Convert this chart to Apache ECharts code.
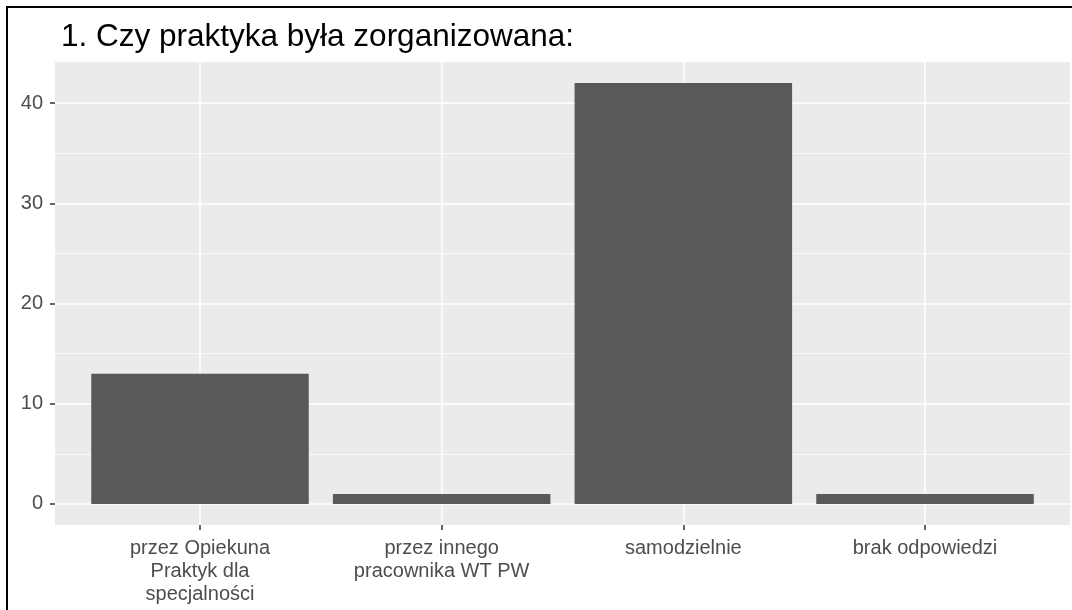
<!DOCTYPE html>
<html>
<head>
<meta charset="utf-8">
<script src="https://cdn.jsdelivr.net/npm/echarts@6/dist/echarts.min.js"></script>
<style>
  html, body { margin: 0; padding: 0; background: #fff; overflow: hidden; }
  #wrap { position: relative; width: 1072px; height: 610px; overflow: hidden; }
  #chart { width: 1072px; height: 610px; }
  #frame {
    position: absolute; left: 6px; top: 6px; width: 1080px; height: 620px;
    border-left: 2px solid #000; border-top: 2px solid #000;
    pointer-events: none;
  }
</style>
</head>
<body>
<div id="wrap">
  <div id="chart"></div>
  <div id="frame"></div>
</div>
<script>
// Answers to question 1: how the internship was organised
const categories = [
  'przez Opiekuna\nPraktyk dla\nspecjalności',
  'przez innego\npracownika WT PW',
  'samodzielnie',
  'brak odpowiedzi'
];
const counts = [13, 1, 42, 1];
const yMajorTicks = [0, 10, 20, 30, 40];
const yMinorTicks = [5, 15, 25, 35];
const titleText = '1. Czy praktyka była zorganizowana:';

const positions = categories.map((_, i) => i + 1);
const barData = counts.map((v, i) => [positions[i], v]);

// ggplot-like expansion: discrete 0.6 each side, continuous 5%
const yMax = Math.max(...counts);
const yPad = yMax * 0.05;

const font = 'Liberation Sans, Arial, sans-serif';
const chart = echarts.init(document.getElementById('chart'), null, { renderer: 'canvas' });

chart.setOption({
  animation: false,
  backgroundColor: '#ffffff',
  title: {
    text: titleText,
    left: 56,
    top: 16,
    textStyle: { fontFamily: font, fontSize: 31.5, fontWeight: 'normal', color: '#000000' }
  },
  grid: {
    left: 55, right: 2, top: 62, bottom: 85,
    show: true, backgroundColor: '#EBEBEB', borderWidth: 0,
    containLabel: false
  },
  xAxis: {
    type: 'value',
    min: 0.4,
    max: categories.length + 0.6,
    axisLine: { show: false, onZero: false },
    axisTick: {
      show: true, length: 5, customValues: positions,
      lineStyle: { color: '#333333', width: 1.5 }
    },
    axisLabel: {
      customValues: positions,
      formatter: v => categories[Math.round(v) - 1],
      fontFamily: font, fontSize: 20, color: '#4D4D4D',
      lineHeight: 23, margin: 12, align: 'center'
    },
    splitLine: { show: true, lineStyle: { color: '#FFFFFF', width: 1.5 } }
  },
  yAxis: [
    {
      type: 'value',
      min: -yPad,
      max: yMax + yPad,
      axisLine: { show: false, onZero: false },
      axisTick: {
        show: true, length: 5, customValues: yMajorTicks,
        lineStyle: { color: '#333333', width: 1.5 }
      },
      axisLabel: {
        customValues: yMajorTicks,
        fontFamily: font, fontSize: 20, color: '#4D4D4D', margin: 12
      },
      splitLine: { show: true, lineStyle: { color: '#FFFFFF', width: 1.5 } }
    },
    {
      // minor grid lines between the labelled ones
      type: 'value',
      position: 'left',
      min: -yPad,
      max: yMax + yPad,
      axisLine: { show: false, onZero: false },
      axisTick: { show: false, customValues: yMinorTicks },
      axisLabel: { show: false, customValues: yMinorTicks },
      splitLine: { show: true, lineStyle: { color: '#FFFFFF', width: 0.7 } }
    }
  ],
  series: [{
    type: 'bar',
    data: barData,
    barWidth: '90%',
    itemStyle: { color: '#595959' },
    silent: true
  }]
});
</script>
</body>
</html>
